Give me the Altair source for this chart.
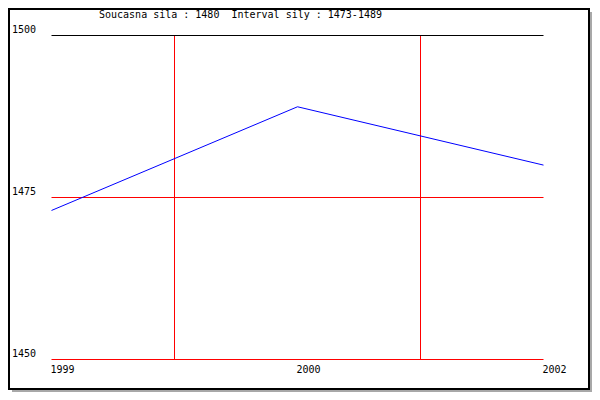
import altair as alt
import pandas as pd

# ---- data ----
years = ["1999", "2000", "2002"]
strength = [1473, 1489, 1480]
y_ticks = [1500, 1475, 1450]
tick_colors = ["#000000", "#ff0000", "#ff0000"]
divider_positions = [0.5, 1.5]
title_text = "Soucasna sila : 1480\u00a0\u00a0Interval sily : 1473-1489"

FONT = "DejaVu Sans Mono"
W, H = 584, 384

idx = list(range(len(years)))
xs = alt.Scale(domain=[0, len(years) - 1], range=[43.5, 535.5])
ys = alt.Scale(domain=[min(y_ticks), max(y_ticks)], range=[351.5, 27.5])

one = pd.DataFrame({"k": [0]})

shadow = alt.Chart(one).mark_rect(color="#a8a8a8").encode(
    x=alt.value(4), x2=alt.value(W), y=alt.value(4), y2=alt.value(H)
)
frame = alt.Chart(one).mark_rect(fill="white", stroke="black", strokeWidth=2).encode(
    x=alt.value(1), x2=alt.value(W - 3), y=alt.value(1), y2=alt.value(H - 3)
)

vdf = pd.DataFrame({"x": divider_positions, "y0": min(y_ticks), "y1": max(y_ticks)})
rules_v = alt.Chart(vdf).mark_rule(color="#ff0000", strokeWidth=1).encode(
    x=alt.X("x:Q", scale=xs, axis=None),
    y=alt.Y("y0:Q", scale=ys, axis=None),
    y2="y1:Q",
)

hdf = pd.DataFrame({"y": y_ticks, "c": tick_colors, "x0": 0, "x1": len(years) - 1})
rules_h = alt.Chart(hdf).mark_rule(strokeWidth=1).encode(
    x=alt.X("x0:Q", scale=xs, axis=None),
    x2="x1:Q",
    y=alt.Y("y:Q", scale=ys, axis=None),
    color=alt.Color("c:N", scale=None),
)

ldf = pd.DataFrame({"i": idx, "v": strength})
line = alt.Chart(ldf).mark_line(color="#0000ff", strokeWidth=1).encode(
    x=alt.X("i:Q", scale=xs, axis=None),
    y=alt.Y("v:Q", scale=ys, axis=None),
)

ylab_df = pd.DataFrame({"y": y_ticks, "t": [str(v) for v in y_ticks]})
ylab = alt.Chart(ylab_df).mark_text(
    align="left", baseline="alphabetic", dy=-2.5, font=FONT, fontSize=10, color="black"
).encode(
    x=alt.value(4),
    y=alt.Y("y:Q", scale=ys, axis=None),
    text="t:N",
)

xlab_df = pd.DataFrame({"i": idx, "t": years})
xlab = alt.Chart(xlab_df).mark_text(
    align="left", baseline="alphabetic", dx=-1, font=FONT, fontSize=10, color="black"
).encode(
    x=alt.X("i:Q", scale=xs, axis=None),
    y=alt.value(365),
    text="t:N",
)

title = alt.Chart(pd.DataFrame({"t": [title_text]})).mark_text(
    align="left", baseline="alphabetic", font=FONT, fontSize=10, color="black"
).encode(
    x=alt.value(91),
    y=alt.value(10),
    text="t:N",
)

chart = alt.layer(
    shadow, frame, rules_v, rules_h, line, ylab, xlab, title
).properties(
    width=W,
    height=H,
    autosize=alt.AutoSizeParams(type="none"),
    padding=0,
).configure_view(stroke=None)

chart.save("out.html", embed_options={"renderer": "svg", "actions": False})
